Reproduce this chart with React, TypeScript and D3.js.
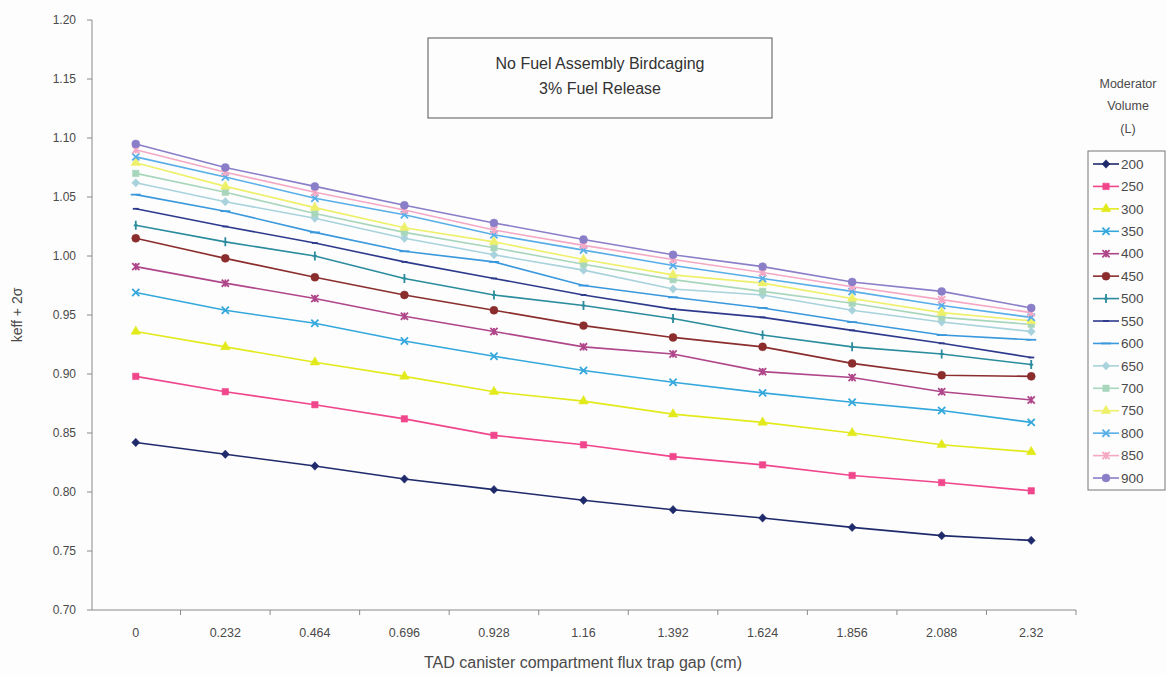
import React from "react";
import * as d3 from "d3";

const categories: string[] = ["0", "0.232", "0.464", "0.696", "0.928", "1.16", "1.392", "1.624", "1.856", "2.088", "2.32"];
const yTicks: number[] = [0.7, 0.75, 0.8, 0.85, 0.9, 0.95, 1.0, 1.05, 1.1, 1.15, 1.2];
const seriesNames: string[] = ["200", "250", "300", "350", "400", "450", "500", "550", "600", "650", "700", "750", "800", "850", "900"];

const v200 = [0.842, 0.832, 0.822, 0.811, 0.802, 0.793, 0.785, 0.778, 0.770, 0.763, 0.759];
const v250 = [0.898, 0.885, 0.874, 0.862, 0.848, 0.840, 0.830, 0.823, 0.814, 0.808, 0.801];
const v300 = [0.936, 0.923, 0.910, 0.898, 0.885, 0.877, 0.866, 0.859, 0.850, 0.840, 0.834];
const v350 = [0.969, 0.954, 0.943, 0.928, 0.915, 0.903, 0.893, 0.884, 0.876, 0.869, 0.859];
const v400 = [0.991, 0.977, 0.964, 0.949, 0.936, 0.923, 0.917, 0.902, 0.897, 0.885, 0.878];
const v450 = [1.015, 0.998, 0.982, 0.967, 0.954, 0.941, 0.931, 0.923, 0.909, 0.899, 0.898];
const v500 = [1.026, 1.012, 1.000, 0.981, 0.967, 0.958, 0.947, 0.933, 0.923, 0.917, 0.908];
const v550 = [1.040, 1.025, 1.011, 0.995, 0.981, 0.967, 0.955, 0.948, 0.937, 0.926, 0.914];
const v600 = [1.052, 1.038, 1.020, 1.004, 0.995, 0.975, 0.965, 0.956, 0.944, 0.933, 0.929];
const v650 = [1.062, 1.046, 1.032, 1.015, 1.001, 0.988, 0.972, 0.967, 0.954, 0.944, 0.936];
const v700 = [1.070, 1.054, 1.036, 1.020, 1.007, 0.993, 0.980, 0.970, 0.960, 0.948, 0.942];
const v750 = [1.079, 1.059, 1.041, 1.024, 1.012, 0.997, 0.984, 0.977, 0.964, 0.952, 0.945];
const v800 = [1.084, 1.067, 1.049, 1.035, 1.018, 1.005, 0.992, 0.981, 0.970, 0.958, 0.948];
const v850 = [1.090, 1.071, 1.054, 1.039, 1.022, 1.009, 0.997, 0.986, 0.974, 0.963, 0.952];
const v900 = [1.095, 1.075, 1.059, 1.043, 1.028, 1.014, 1.001, 0.991, 0.978, 0.970, 0.956];

const seriesValues: number[][] = [v200, v250, v300, v350, v400, v450, v500, v550, v600, v650, v700, v750, v800, v850, v900];

const colors: string[] = [
  "#1f2a6b", "#f0468c", "#e3ea1c", "#34a8dc", "#b0468a", "#8b2d2d", "#2a8c9c", "#2d3a8c",
  "#3a98dc", "#a8d2dc", "#a8d6bc", "#eef06a", "#58aee8", "#f4a8c4", "#8a7ec8",
];
const markers: string[] = [
  "diamond", "square", "triangle", "x", "star", "circle", "plus", "dash",
  "longdash", "diamond", "square", "triangle", "x", "star", "circle",
];

function markerPath(kind: string): string {
  const s = 3.6;
  switch (kind) {
    case "diamond":
      return "M0,-4.2L4,0L0,4.2L-4,0Z";
    case "square":
      return d3.symbol(d3.symbolSquare, 42)()!;
    case "triangle":
      return d3.symbol(d3.symbolTriangle, 40)()!;
    case "circle":
      return d3.symbol(d3.symbolCircle, 50)()!;
    case "x":
      return `M${-s},${-s}L${s},${s}M${-s},${s}L${s},${-s}`;
    case "star":
      return `M${-s},${-s}L${s},${s}M${-s},${s}L${s},${-s}M0,${-s}L0,${s}`;
    case "plus":
      return `M0,${-4.5}L0,${4.5}M-2,0L2,0`;
    case "dash":
      return `M-3,0L3,0`;
    case "longdash":
      return `M-5,0L5,0`;
    default:
      return "";
  }
}

const isStroke = (k: string) => ["x", "star", "plus", "dash", "longdash"].includes(k);

export default function App() {
  const W = 1167;
  const H = 675;
  const plotLeft = 92;
  const plotTop = 20;
  const plotBottom = 610;

  const x = d3.scaleBand<string>().domain(categories).range([91, 1076]);
  const y = d3.scaleLinear().domain([0.7, 1.2]).range([plotBottom, plotTop]);
  const cx = (c: string) => (x(c) ?? 0) + x.bandwidth() / 2;

  const line = d3
    .line<number>()
    .x((_, i) => cx(categories[i]))
    .y((d) => y(d));

  const font = "'Liberation Sans', Arial, sans-serif";
  const textColor = "#4a4a4a";
  const axisColor = "#8a8a8a";

  const legendX = 1088;
  const legendTop = 151;
  const legendStep = 22.43;

  return (
    <svg width={W} height={H} style={{ position: "absolute", left: 0, top: 0, background: "#fdfdfd" }} fontFamily={font}>
      <rect x={0} y={0} width={W} height={H} fill="#fdfdfd" />
      {/* y axis */}
      <line x1={plotLeft} x2={plotLeft} y1={plotTop} y2={plotBottom} stroke={axisColor} strokeWidth={1} />
      {yTicks.map((t) => (
        <g key={t}>
          <line x1={plotLeft - 5} x2={plotLeft} y1={y(t)} y2={y(t)} stroke={axisColor} />
          <text x={76} y={y(t)} dy="0.35em" textAnchor="end" fontSize={12} fill={textColor}>
            {t.toFixed(2)}
          </text>
        </g>
      ))}
      {/* x axis */}
      <line x1={plotLeft} x2={1076} y1={plotBottom} y2={plotBottom} stroke={axisColor} />
      {categories.map((c) => (
        <g key={c}>
          <line x1={(x(c) ?? 0) + x.bandwidth()} x2={(x(c) ?? 0) + x.bandwidth()} y1={plotBottom} y2={plotBottom + 5} stroke={axisColor} />
          <text x={cx(c)} y={637} textAnchor="middle" fontSize={12.5} fill={textColor}>
            {c}
          </text>
        </g>
      ))}
      <text x={583} y={668} textAnchor="middle" fontSize={16} fill={textColor}>
        TAD canister compartment flux trap gap (cm)
      </text>
      <text transform={`translate(22,315) rotate(-90)`} textAnchor="middle" fontSize={14} fill={textColor}>
        keff + 2σ
      </text>

      {/* series */}
      {seriesValues.map((vals, si) => (
        <g key={seriesNames[si]}>
          <path d={line(vals) ?? ""} fill="none" stroke={colors[si]} strokeWidth={1.6} />
          {vals.map((v, i) => (
            <path
              key={i}
              d={markerPath(markers[si])}
              transform={`translate(${cx(categories[i])},${y(v)})`}
              fill={isStroke(markers[si]) ? "none" : colors[si]}
              stroke={colors[si]}
              strokeWidth={isStroke(markers[si]) ? 1.8 : 0.5}
            />
          ))}
        </g>
      ))}

      {/* title box */}
      <rect x={428} y={38} width={344} height={80} fill="#fdfdfd" stroke="#555" strokeWidth={1} />
      <text x={600} y={69} textAnchor="middle" fontSize={16} fill="#333">
        No Fuel Assembly Birdcaging
      </text>
      <text x={600} y={94} textAnchor="middle" fontSize={16} fill="#333">
        3% Fuel Release
      </text>

      {/* legend */}
      <text x={1128} y={88} textAnchor="middle" fontSize={12.5} fill={textColor}>Moderator</text>
      <text x={1128} y={110} textAnchor="middle" fontSize={12.5} fill={textColor}>Volume</text>
      <text x={1128} y={133} textAnchor="middle" fontSize={12.5} fill={textColor}>(L)</text>
      <rect x={legendX} y={legendTop} width={77} height={339} fill="none" stroke="#777" strokeWidth={1} />
      {seriesNames.map((name, si) => {
        const ly = legendTop + 13 + si * legendStep;
        return (
          <g key={name}>
            <line x1={legendX + 5} x2={legendX + 31} y1={ly} y2={ly} stroke={colors[si]} strokeWidth={1.6} />
            <path
              d={markerPath(markers[si])}
              transform={`translate(${legendX + 18},${ly})`}
              fill={isStroke(markers[si]) ? "none" : colors[si]}
              stroke={colors[si]}
              strokeWidth={isStroke(markers[si]) ? 1.8 : 0.5}
            />
            <text x={legendX + 33} y={ly} dy="0.35em" fontSize={13.5} fill={textColor}>
              {name}
            </text>
          </g>
        );
      })}
    </svg>
  );
}
